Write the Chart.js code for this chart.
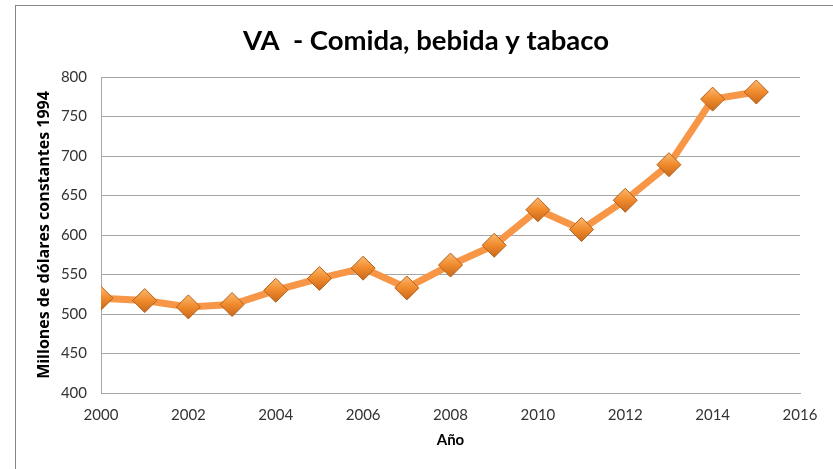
<!DOCTYPE html>
<html>
<head>
<meta charset="utf-8">
<script src="https://cdn.jsdelivr.net/npm/chart.js@4/dist/chart.umd.min.js"></script>
<style>
  body { margin: 0; background: #fff; }
  #wrap { position: relative; width: 833px; height: 469px; }
  #frame { position: absolute; left: 15px; top: 5px; right: -5px; bottom: -5px; border: 1px solid #868686; }
  canvas { position: absolute; left: 0; top: 0; }
</style>
</head>
<body>
<div id="wrap">
  <div id="frame"></div>
  <canvas id="vaChart" width="833" height="469"></canvas>
</div>
<script>
// Valor agregado - comida, bebida y tabaco
const years = [2000, 2001, 2002, 2003, 2004, 2005, 2006, 2007, 2008, 2009, 2010, 2011, 2012, 2013, 2014, 2015];
const values = [520, 517, 509, 512, 530, 545, 558, 533, 562, 587, 632, 607, 644, 689, 772, 781];
const yTicks = [400, 450, 500, 550, 600, 650, 700, 750, 800];
const xTicks = [2000, 2002, 2004, 2006, 2008, 2010, 2012, 2014, 2016];
const chartTitle = 'VA  - Comida, bebida y tabaco';

const fontFamily = "Lato, 'Open Sans', 'Noto Sans', sans-serif";
const titleFont = { family: fontFamily, size: 27.5, weight: 'bold' };

// title centred on the whole frame, not only on the chart box
const centeredTitle = {
    id: 'centeredTitle',
    afterDraw(chart) {
        const c = chart.ctx;
        c.save();
        c.font = Chart.helpers.toFont(titleFont).string;
        c.fillStyle = '#000';
        c.textAlign = 'center';
        c.textBaseline = 'middle';
        c.fillText(chartTitle, 426, 41);
        c.restore();
    }
};

// small 3D look for the diamond markers
function markerFill(context) {
    const chart = context.chart;
    if (context.type !== 'data' || !chart.scales.x || !chart.scales.y) return '#F08A2C';
    const px = chart.scales.x.getPixelForValue(context.parsed.x);
    const py = chart.scales.y.getPixelForValue(context.parsed.y);
    if (!isFinite(px) || !isFinite(py)) return '#F08A2C';
    const g = chart.ctx.createLinearGradient(px, py - 12, px, py + 12);
    g.addColorStop(0, '#FBB96E');
    g.addColorStop(0.5, '#F08A2C');
    g.addColorStop(1, '#C8681C');
    return g;
}

document.addEventListener('DOMContentLoaded', function() {
    const ctx = document.getElementById('vaChart').getContext('2d');
    new Chart(ctx, {
        type: 'line',
        data: {
            datasets: [{
                label: 'VA',
                data: years.map((y, i) => ({ x: y, y: values[i] })),
                borderColor: '#F79646',
                borderWidth: 7,
                pointStyle: 'rectRot',
                pointRadius: 12,
                pointHoverRadius: 12,
                pointBackgroundColor: markerFill,
                pointBorderColor: '#B5601A',
                pointBorderWidth: 1,
                tension: 0
            }]
        },
        options: {
            responsive: false,
            animation: false,
            layout: { padding: { left: 20, right: 33, top: 0, bottom: 0 } },
            plugins: {
                legend: { display: false },
                tooltip: { enabled: false },
                title: {
                    display: true,
                    text: chartTitle,
                    color: 'rgba(0,0,0,0)',
                    font: titleFont,
                    padding: { top: 23.5, bottom: 20.5 }
                }
            },
            scales: {
                x: {
                    type: 'linear',
                    min: 2000,
                    max: 2016,
                    afterBuildTicks: axis => { axis.ticks = xTicks.map(v => ({ value: v })); },
                    afterFit: axis => { axis.height = 76; },
                    grid: { display: false, drawTicks: false },
                    border: { display: true, color: '#a6a6a6' },
                    ticks: {
                        color: '#333',
                        font: { family: fontFamily, size: 15 },
                        padding: 13,
                        maxRotation: 0,
                        callback: v => String(v)
                    },
                    title: {
                        display: true,
                        text: 'Año',
                        color: '#000',
                        font: { family: fontFamily, size: 15, weight: 'bold' },
                        padding: { top: 0, bottom: 20 }
                    }
                },
                y: {
                    min: 400,
                    max: 800,
                    afterBuildTicks: axis => { axis.ticks = yTicks.map(v => ({ value: v })); },
                    afterFit: axis => { axis.width = 81; },
                    grid: { color: '#a6a6a6', drawTicks: false },
                    border: { display: true, color: '#a6a6a6' },
                    ticks: {
                        color: '#333',
                        font: { family: fontFamily, size: 15 },
                        padding: 14
                    },
                    title: {
                        display: true,
                        text: 'Millones de dólares constantes 1994',
                        color: '#000',
                        font: { family: "'Open Sans', Lato, sans-serif", size: 16, weight: 'bold' },
                        padding: { top: 15, bottom: 0 }
                    }
                }
            }
        },
        plugins: [centeredTitle]
    });
});
</script>
</body>
</html>
